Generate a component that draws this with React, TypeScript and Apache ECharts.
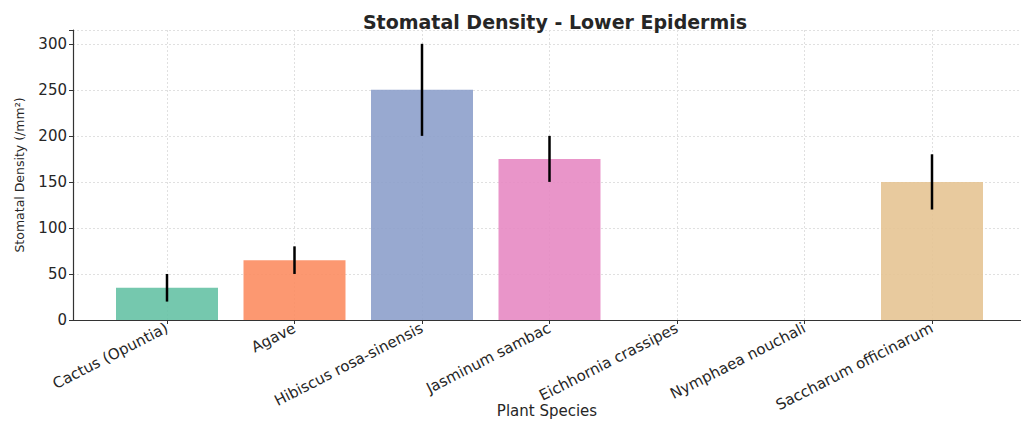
import React, { useEffect, useRef } from "react";
import * as echarts from "echarts";

const categories = [
  "Cactus (Opuntia)",
  "Agave",
  "Hibiscus rosa-sinensis",
  "Jasminum sambac",
  "Eichhornia crassipes",
  "Nymphaea nouchali",
  "Saccharum officinarum",
];
const densityValues = [35, 65, 250, 175, 0, 0, 150];
const errorValues = [15, 15, 50, 25, 0, 0, 30];
const barColors = ["#66c2a5", "#fc8d62", "#8da0cb", "#e78ac3", "#a6d854", "#ffd92f", "#e5c494"];
const yTicks = [0, 50, 100, 150, 200, 250, 300];

export default function App() {
  const ref = useRef<HTMLDivElement>(null);
  useEffect(() => {
    document.body.style.margin = "0";
    const chart = echarts.init(ref.current!, null, { renderer: "svg" });
    const font = "DejaVu Sans";
    const textColor = "#262626";
    const yMax = 315;
    const option: any = {
      animation: false,
      backgroundColor: "#ffffff",
      title: {
        text: "Stomatal Density - Lower Epidermis",
        left: 550,
        textAlign: "center",
        top: 7,
        textStyle: { fontFamily: font, fontWeight: "bold", fontSize: 19, color: textColor },
      },
      grid: [
        { left: 167, right: 89, top: 30, bottom: 101, outerBoundsMode: "none", containLabel: false },
        { left: 73, right: 0, top: 30, bottom: 101, outerBoundsMode: "none", containLabel: false },
      ],
      xAxis: [
        {
          type: "value",
          gridIndex: 0,
          min: 0,
          max: categories.length - 1,
          interval: 1,
          axisLine: { show: false },
          axisTick: { show: true, length: 4, lineStyle: { color: "#333" } },
          axisLabel: {
            rotate: 27,
            margin: 7,
            fontFamily: font,
            fontSize: 15,
            color: textColor,
            formatter: (v: number) => categories[Math.round(v)] ?? "",
          },
          splitLine: { show: true, lineStyle: { color: "#e0e0e0", type: [2, 2], width: 1 } },
        },
        {
          type: "value",
          gridIndex: 1,
          min: 0,
          max: 1,
          axisLine: { show: true, lineStyle: { color: "#333", width: 1.2 } },
          axisTick: { show: false },
          axisLabel: { show: false },
          splitLine: { show: false },
          name: "Plant Species",
          nameLocation: "middle",
          nameGap: 83,
          nameMoveOverlap: false,
          nameTextStyle: { fontFamily: font, fontSize: 15, color: textColor },
        },
      ],
      yAxis: [
        {
          type: "value",
          gridIndex: 0,
          min: 0,
          max: yMax,
          show: false,
          splitLine: { show: false },
        },
        {
          type: "value",
          gridIndex: 1,
          min: 0,
          max: yMax,
          interval: 50,
          axisLine: { show: true, lineStyle: { color: "#333", width: 1.2 } },
          axisTick: { show: true, length: 4, lineStyle: { color: "#333" } },
          axisLabel: {
            margin: 6,
            fontFamily: font,
            fontSize: 15,
            color: textColor,
            formatter: (v: number) => (yTicks.includes(v) ? String(v) : ""),
          },
          splitLine: { show: true, lineStyle: { color: "#e0e0e0", type: [2, 2], width: 1 } },
          name: "Stomatal Density (/mm²)",
          nameLocation: "middle",
          nameGap: 47,
          nameMoveOverlap: false,
          nameTextStyle: { fontFamily: font, fontSize: 12.5, color: textColor },
        },
      ],
      series: [
        {
          type: "bar",
          xAxisIndex: 0,
          yAxisIndex: 0,
          clip: false,
          barWidth: 102,
          data: densityValues.map((v, i) => ({
            value: [i, v],
            itemStyle: { color: barColors[i], opacity: 0.9 },
          })),
        },
        {
          type: "custom",
          xAxisIndex: 0,
          yAxisIndex: 0,
          clip: false,
          z: 5,
          data: densityValues.map((v, i) => [i, v - errorValues[i], v + errorValues[i]]),
          renderItem: (params: any, api: any) => {
            const lo = api.value(1);
            const hi = api.value(2);
            if (hi === lo) return null;
            const p1 = api.coord([api.value(0), lo]);
            const p2 = api.coord([api.value(0), hi]);
            return {
              type: "line",
              shape: { x1: p1[0], y1: p1[1], x2: p2[0], y2: p2[1] },
              style: { stroke: "#000", lineWidth: 2.5 },
            };
          },
        },
      ],
    };
    chart.setOption(option);
    return () => chart.dispose();
  }, []);
  return <div ref={ref} style={{ width: 1021, height: 421 }} />;
}
